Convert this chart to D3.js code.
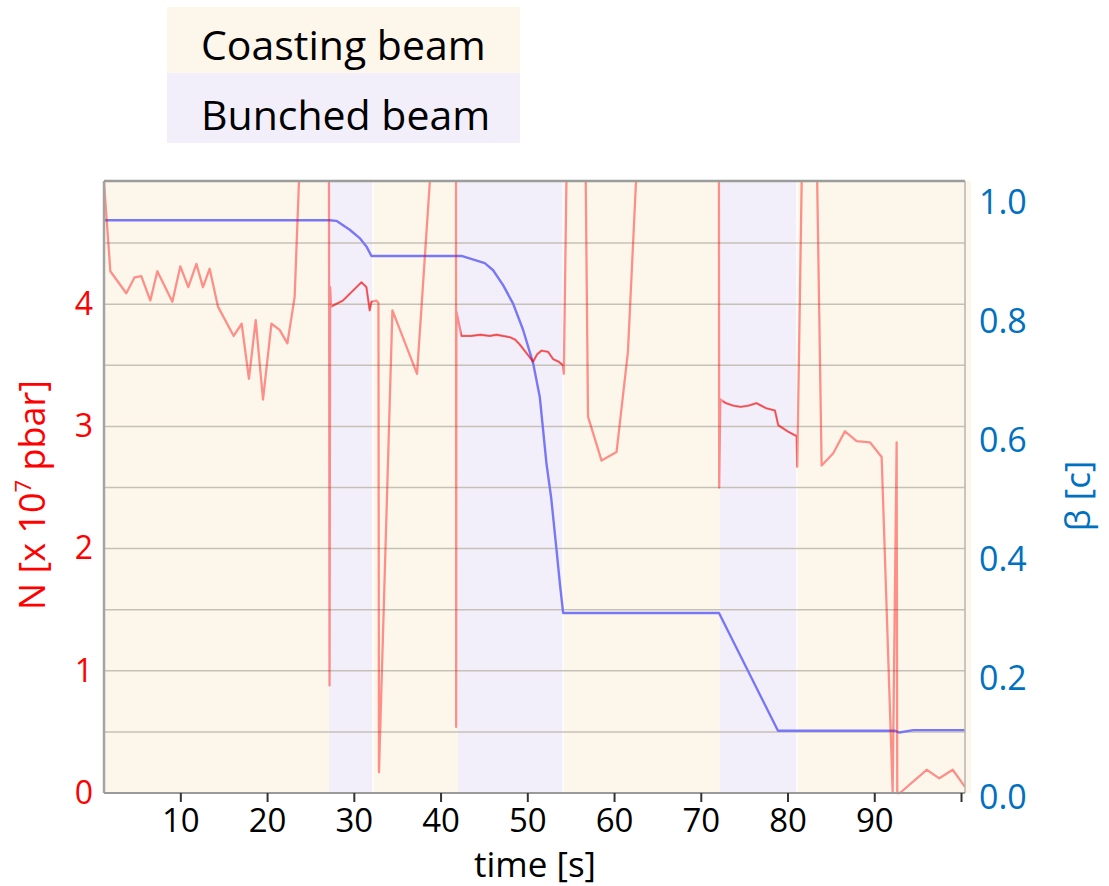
<!DOCTYPE html>
<meta charset="utf-8">
<head>
    <title>Beam intensity and velocity vs time</title>
</head>

<style>
  body {
    margin: 0;
    background: #fff;
  }
  svg {
    display: block;
    font-family: "Open Sans", sans-serif;
  }
  .grid line {
    stroke: #c6c1b7;
    stroke-width: 1.5px;
  }
  .nLine {
    fill: none;
    stroke: rgba(255, 0, 0, 0.42);
    stroke-width: 2.3px;
    stroke-linejoin: round;
  }
  .nDense {
    fill: none;
    stroke: rgba(225, 0, 0, 0.45);
    stroke-width: 1.4px;
    stroke-linejoin: round;
  }
  .betaLine {
    fill: none;
    stroke: #7878f6;
    stroke-width: 2.4px;
    stroke-linejoin: round;
  }
  .axis path { display: none; }
  .xaxis line { stroke: #333; stroke-width: 2px; }
</style>
<body>
<script src="https://cdn.jsdelivr.net/npm/d3@7"></script>

<script>
// ---- data ----
// beam phases (s)
var bunchedStart = [27.15, 42.0, 72.2],
    bunchedEnd   = [32.2, 54.13, 81.08];

// intensity N [x 10^7 pbar]; values above 5 leave the top of the frame
var nTime = [1.2, 1.93, 3.77, 4.73, 5.5, 6.54, 7.35, 9.08, 10.0, 10.92, 11.85, 12.61, 13.38,
  14.34, 16.15, 17.07, 17.91, 18.69, 19.53, 20.5, 21.45, 22.34, 23.18, 24.2,
  27.12, 27.2, 27.27, 27.37, 28.75, 30.88, 31.45, 31.83, 32.03, 32.6, 32.84, 32.9,
  34.45, 37.29, 39.7,
  41.78, 41.8, 41.83, 42.41, 43.5, 44.6, 45.67, 46.45, 47.2, 47.98, 48.6, 49.13, 49.9,
  50.67, 51.13, 51.64, 52.4, 52.98, 53.6, 54.13, 54.21, 54.7,
  56.6, 57.0, 58.56, 60.29, 61.6, 63.2,
  72.08, 72.12, 72.25, 72.9, 73.74, 74.6, 75.5, 76.43, 77.5, 78.55, 78.93, 80.0, 81.05, 81.12, 81.85,
  83.2, 83.93, 85.27, 86.62, 87.97, 89.5, 90.85, 92.12, 92.58, 92.65, 92.96,
  96.04, 97.5, 99.04, 100.46];
var nValue = [5.0, 4.27, 4.09, 4.22, 4.23, 4.03, 4.27, 4.02, 4.31, 4.14, 4.33, 4.14, 4.29,
  3.98, 3.74, 3.84, 3.39, 3.87, 3.22, 3.84, 3.79, 3.68, 4.06, 6.0,
  6.0, 0.88, 4.14, 3.98, 4.03, 4.18, 4.14, 3.95, 4.02, 4.03, 4.01, 0.17,
  3.95, 3.43, 6.0,
  6.0, 0.54, 3.94, 3.74, 3.74, 3.75, 3.74, 3.75, 3.74, 3.73, 3.71, 3.67, 3.6,
  3.53, 3.59, 3.62, 3.61, 3.55, 3.53, 3.5, 3.43, 6.0,
  6.0, 3.08, 2.72, 2.79, 3.61, 6.0,
  6.0, 2.5, 3.22, 3.19, 3.17, 3.16, 3.17, 3.19, 3.15, 3.13, 3.01, 2.96, 2.92, 2.67, 6.0,
  6.0, 2.68, 2.78, 2.96, 2.88, 2.87, 2.75, 0.01, 2.87, 0.0, 0.0,
  0.19, 0.12, 0.19, 0.05];

// velocity beta [c]
var betaTime  = [1.2, 27.22, 27.99, 29.53, 30.68, 31.45, 32.03, 42.41, 45.1, 46.06, 47.21,
  48.36, 49.51, 50.67, 51.44, 52.21, 52.75, 53.37, 53.75, 54.13, 72.1, 78.9, 92.4, 92.9, 94.5, 100.46];
var betaValue = [0.971, 0.971, 0.970, 0.955, 0.941, 0.927, 0.911, 0.911, 0.899, 0.887, 0.862,
  0.831, 0.787, 0.731, 0.674, 0.562, 0.505, 0.417, 0.361, 0.311, 0.311, 0.113, 0.113, 0.110, 0.114, 0.114];

// ticks
var timeTicks = [10, 20, 30, 40, 50, 60, 70, 80, 90, 100],
    nTicks = [0, 1, 2, 3, 4],
    nGrid = [0.5, 1, 1.5, 2, 2.5, 3, 3.5, 4, 4.5],
    betaTicks = [0, 0.2, 0.4, 0.6, 0.8, 1.0];

var legendLabels = ["Coasting beam", "Bunched beam"];

// ---- layout ----
var W = 1109, H = 886;
var frame = {left: 104, right: 965, top: 181, bottom: 793};
var cream = "#fdf7eb", lavender = "#f3effa";

var x = d3.scaleLinear().domain([1.2, 100.46]).range([frame.left, frame.right]);
var yN = d3.scaleLinear().domain([0, 5]).range([793, 182]);
var yB = d3.scaleLinear().domain([0, 1]).range([798, 203]);

var svg = d3.select("body").append("svg")
    .attr("width", W)
    .attr("height", H);

// legend
var legend = svg.append("g");
legend.selectAll("rect")
    .data(legendLabels)
  .enter().append("rect")
    .attr("x", 167)
    .attr("y", function(d, i) { return i ? 73 : 7; })
    .attr("width", 353)
    .attr("height", function(d, i) { return i ? 70 : 66; })
    .attr("fill", function(d, i) { return i ? lavender : cream; });
legend.selectAll("text")
    .data(legendLabels)
  .enter().append("text")
    .attr("x", 201)
    .attr("y", function(d, i) { return i ? 130 : 60; })
    .style("font-size", "41px")
    .attr("fill", "#000")
    .text(function(d) { return d; });

// plot background
svg.append("rect")
    .attr("x", frame.left)
    .attr("y", frame.top)
    .attr("width", frame.right - frame.left + 6)
    .attr("height", frame.bottom - frame.top)
    .attr("fill", cream);

svg.selectAll(".band")
    .data(bunchedStart)
  .enter().append("rect")
    .attr("class", "band")
    .attr("x", function(d) { return x(d); })
    .attr("y", frame.top)
    .attr("width", function(d, i) { return x(bunchedEnd[i]) - x(d); })
    .attr("height", frame.bottom - frame.top)
    .attr("fill", lavender);

// thin light seam at the end of each bunched phase
svg.selectAll(".seam")
    .data(bunchedEnd)
  .enter().append("line")
    .attr("x1", function(d) { return x(d); })
    .attr("x2", function(d) { return x(d); })
    .attr("y1", frame.top)
    .attr("y2", frame.bottom)
    .attr("stroke", "#fff")
    .attr("stroke-opacity", 0.8)
    .attr("stroke-width", 1.5);

// grid
svg.append("g")
    .attr("class", "grid")
  .selectAll("line")
    .data(nGrid)
  .enter().append("line")
    .attr("x1", frame.left)
    .attr("x2", frame.right)
    .attr("y1", function(d) { return yN(d); })
    .attr("y2", function(d) { return yN(d); });

// clip
var defs = svg.append("defs");
defs.append("clipPath").attr("id", "plotClip")
  .append("rect")
    .attr("x", frame.left)
    .attr("y", frame.top)
    .attr("width", frame.right - frame.left)
    .attr("height", frame.bottom - frame.top + 2);
var bunchClip = defs.append("clipPath").attr("id", "bunchClip");
bunchClip.selectAll("rect")
    .data(bunchedStart)
  .enter().append("rect")
    .attr("x", function(d) { return x(d) + 3; })
    .attr("y", frame.top)
    .attr("width", function(d, i) { return x(bunchedEnd[i]) - x(d) - 3; })
    .attr("height", frame.bottom - frame.top);

var nData = nTime.map(function(t, i) { return [t, nValue[i]]; });
var betaData = betaTime.map(function(t, i) { return [t, betaValue[i]]; });

var nPath = d3.line()
    .x(function(d) { return x(d[0]); })
    .y(function(d) { return yN(d[1]); });
var betaPath = d3.line()
    .x(function(d) { return x(d[0]); })
    .y(function(d) { return yB(d[1]); });

var lines = svg.append("g").attr("clip-path", "url(#plotClip)");
lines.append("path")
    .attr("class", "betaLine")
    .attr("d", betaPath(betaData));
lines.append("path")
    .attr("class", "nLine")
    .attr("d", nPath(nData));
lines.append("g").attr("clip-path", "url(#bunchClip)")
  .append("path")
    .attr("class", "nDense")
    .attr("d", nPath(nData));

// frame
var border = svg.append("g").attr("fill", "none");
border.append("line").attr("x1", frame.left).attr("x2", frame.left)
    .attr("y1", frame.top).attr("y2", frame.bottom)
    .attr("stroke", "#a4a4a4").attr("stroke-width", 2.5);
border.append("line").attr("x1", frame.left).attr("x2", frame.right)
    .attr("y1", frame.top).attr("y2", frame.top)
    .attr("stroke", "#9c9c9c").attr("stroke-width", 2.5);
border.append("line").attr("x1", frame.right).attr("x2", frame.right)
    .attr("y1", frame.top).attr("y2", frame.bottom)
    .attr("stroke", "#b4b4b4").attr("stroke-width", 1.5);
border.append("line").attr("x1", frame.left).attr("x2", frame.right)
    .attr("y1", frame.bottom).attr("y2", frame.bottom)
    .attr("stroke", "#9a9a9a").attr("stroke-width", 2);

// x axis
var xAxis = d3.axisBottom(x)
    .tickValues(timeTicks)
    .tickSize(9)
    .tickPadding(7)
    .tickFormat(function(d) { return d < 100 ? d : ""; });
svg.append("g")
    .attr("class", "axis xaxis")
    .attr("transform", "translate(0," + frame.bottom + ")")
    .call(xAxis)
    .attr("font-family", "Open Sans")
    .attr("font-size", 33)
  .selectAll("text")
    .attr("fill", "#000");

// left axis (N)
svg.append("g")
    .attr("class", "axis")
    .attr("transform", "translate(" + frame.left + ",0)")
    .call(d3.axisLeft(yN).tickValues(nTicks).tickSize(0).tickPadding(11).tickFormat(d3.format("d")))
    .attr("font-family", "Open Sans")
    .attr("font-size", 32)
  .selectAll("text")
    .attr("fill", "#ff0000");

// right axis (beta)
svg.append("g")
    .attr("class", "axis")
    .attr("transform", "translate(" + frame.right + ",0)")
    .call(d3.axisRight(yB).tickValues(betaTicks).tickSize(0).tickPadding(14).tickFormat(d3.format(".1f")))
    .attr("font-family", "Open Sans")
    .attr("font-size", 34)
  .selectAll("text")
    .attr("fill", "#0070c0");

// axis titles
var nLabel = svg.append("text")
    .attr("transform", "translate(45,495) rotate(-90)")
    .attr("text-anchor", "middle")
    .attr("fill", "#ff0000")
    .style("font-size", "36px");
nLabel.append("tspan").text("N [x 10");
nLabel.append("tspan").attr("dy", -14).style("font-size", "22px").text("7");
nLabel.append("tspan").attr("dy", 14).text(" pbar]");

svg.append("text")
    .attr("transform", "translate(1090,496) rotate(-90)")
    .attr("text-anchor", "middle")
    .attr("fill", "#0070c0")
    .style("font-size", "35px")
    .text("β [c]");

svg.append("text")
    .attr("x", 535)
    .attr("y", 877)
    .attr("text-anchor", "middle")
    .attr("fill", "#000")
    .style("font-size", "35px")
    .text("time [s]");
</script>
</body>
